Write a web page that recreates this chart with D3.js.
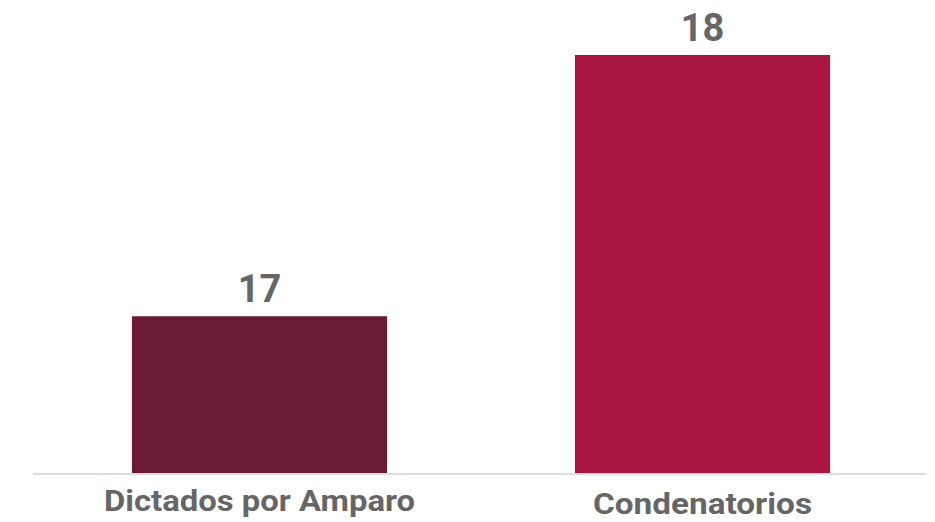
<!DOCTYPE html>
<html>
<head>
<meta charset="utf-8">
<script src="https://cdn.jsdelivr.net/npm/d3@7"></script>
<style>
  html, body { margin: 0; padding: 0; background: #fff; }
  svg { display: block; font-family: Roboto, "Noto Sans", sans-serif; }
</style>
</head>
<body>
<svg id="chart" width="935" height="522"></svg>
<script>
const categories = ["Dictados por Amparo", "Condenatorios"];
const values = [17, 18];
const barColors = ["#6a1b33", "#a8163f"];
const labelWidths = [311, 219];

const svg = d3.select("#chart");
const baseY = 473;

const x = d3.scaleBand()
  .domain(categories)
  .range([38, 924])
  .paddingInner(0.424)
  .paddingOuter(0.212);

// the value axis does not start at zero in the original
const y = d3.scaleLinear()
  .domain([16.4, 18])
  .range([baseY, 55]);

svg.selectAll("rect.bar")
  .data(categories)
  .enter()
  .append("rect")
  .attr("class", "bar")
  .attr("x", d => x(d))
  .attr("width", x.bandwidth())
  .attr("y", (d, i) => y(values[i]))
  .attr("height", (d, i) => baseY - y(values[i]))
  .attr("fill", (d, i) => barColors[i]);

svg.append("line")
  .attr("x1", 33).attr("x2", 926)
  .attr("y1", baseY + 1).attr("y2", baseY + 1)
  .attr("stroke", "#dddddd")
  .attr("stroke-width", 2);

svg.selectAll("text.value")
  .data(categories)
  .enter()
  .append("text")
  .attr("class", "value")
  .attr("x", d => x(d) + x.bandwidth() / 2)
  .attr("y", (d, i) => y(values[i]) - 14)
  .attr("text-anchor", "middle")
  .attr("font-size", "38px")
  .attr("font-weight", 700)
  .attr("fill", "#666666")
  .text((d, i) => values[i]);

svg.selectAll("text.cat")
  .data(categories)
  .enter()
  .append("text")
  .attr("class", "cat")
  .attr("x", d => x(d) + x.bandwidth() / 2)
  .attr("y", (d, i) => i === 0 ? 511 : 514)
  .attr("text-anchor", "middle")
  .attr("font-size", "30px")
  .attr("font-weight", 700)
  .attr("fill", "#666666")
  .attr("textLength", (d, i) => labelWidths[i])
  .attr("lengthAdjust", "spacingAndGlyphs")
  .text(d => d);
</script>
</body>
</html>
